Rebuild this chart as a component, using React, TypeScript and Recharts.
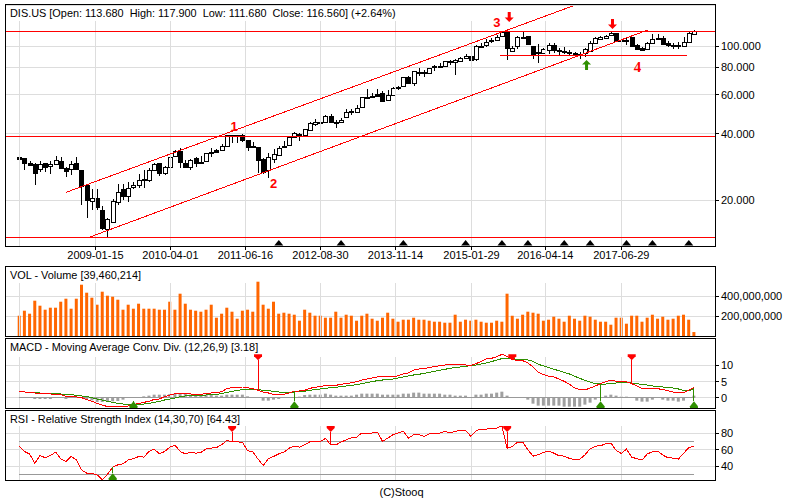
import { Bar, CartesianGrid, ComposedChart, Line, ReferenceDot, ReferenceLine, XAxis, YAxis } from "recharts"

const opens = [31.3,31.0,29.6,29.2,27.6,29.4,28.6,29.1,30.0,28.0,27.6,29.4,27.4,23.5,19.8,20.4,18.1,14.8,16.0,19.6,22.4,21.0,22.9,23.4,24.6,24.6,27.4,29.4,26.7,28.2,31.6,33.5,29.6,28.2,31.0,29.5,30.0,33.1,33.7,33.9,35.1,39.5,39.4,39.5,37.5,35.1,34.9,30.7,27.3,30.8,32.2,34.8,35.7,38.7,39.8,39.7,41.6,44.5,45.1,45.4,48.0,45.4,45.3,47.5,50.5,50.5,53.1,59.0,58.7,60.6,61.0,57.2,59.8,65.0,66.1,72.1,68.2,75.7,76.2,75.5,80.6,80.9,81.4,85.2,84.6,85.8,88.2,90.4,87.3,99.7,100.7,105.7,106.8,110.6,115.7,95.2,99.7,109.5,110.9,100.0,92.6,92.6,95.6,100.7,95.9,94.9,93.9,92.6,91.4,92.6,95.3,103.5,108.0,109.1,111.8,114.1,105.3,106.8,109.5,101.0,98.3,97.2,103.5,109.1,108.3,102.8,100.7,100.7,99.7,103.9,113.68]
const highs = [32.3,31.0,30.0,29.4,30.0,29.6,30.0,31.7,31.3,28.4,30.2,31.5,27.4,23.7,22.5,22.4,18.9,16.6,20.2,23.7,23.6,24.2,24.2,26.3,27.3,27.9,29.4,29.6,28.7,31.5,33.8,34.4,30.4,30.8,31.3,31.9,32.9,34.4,34.2,36.0,39.6,39.6,39.6,39.8,37.5,36.8,35.0,31.0,32.8,34.2,35.4,37.3,39.1,40.6,40.2,42.3,45.1,46.7,47.0,48.8,49.3,46.2,47.2,51.6,51.9,53.9,59.0,63.7,61.0,63.7,62.8,63.2,65.0,65.9,72.6,73.1,77.3,79.5,77.9,79.8,81.7,83.5,85.8,86.4,87.3,89.5,91.6,92.6,101.0,102.8,107.2,108.3,112.2,117.4,118.2,100.0,111.0,115.7,111.0,100.0,102.1,97.6,103.5,103.5,98.3,99.0,95.9,94.3,94.3,97.9,105.0,109.5,111.0,112.5,115.3,114.9,109.5,109.5,110.2,101.8,99.3,104.6,113.3,112.9,110.6,105.7,103.5,104.6,109.5,115.3,117.9]
const lows = [30.4,27.4,28.6,23.5,26.9,26.9,26.3,29.0,27.9,25.6,26.1,27.4,19.0,16.6,18.1,18.1,14.7,13.7,16.0,19.0,20.1,19.7,22.5,22.8,22.8,24.3,27.2,25.9,26.1,28.1,31.4,27.9,28.1,27.4,28.4,29.3,29.9,31.5,32.9,33.8,35.0,36.2,36.4,36.9,33.6,34.6,26.5,26.3,25.3,29.4,31.9,34.4,35.5,38.4,37.3,39.3,41.3,43.2,44.4,45.1,44.6,42.5,44.6,47.2,48.7,50.4,52.2,58.2,57.9,59.0,55.9,56.8,59.4,63.2,65.0,67.7,66.1,73.1,72.1,74.7,77.3,79.8,80.6,81.7,73.9,84.9,87.0,85.8,85.5,98.6,99.3,102.8,106.1,109.5,86.4,93.9,96.6,107.2,100.7,87.3,83.5,92.0,92.0,93.3,91.0,92.0,91.0,90.4,87.3,89.5,94.3,102.8,106.5,108.0,111.0,104.6,101.4,101.0,99.3,95.9,95.3,96.6,102.8,107.2,101.0,98.6,97.2,96.9,99.0,102.8,111.68]
const closes = [30.8,29.6,29.0,26.7,29.1,28.2,29.2,30.3,28.1,27.2,29.1,27.6,23.3,20.1,20.4,18.6,15.0,16.4,19.8,21.8,21.0,22.8,23.4,24.6,24.9,27.4,29.2,26.5,28.2,31.3,33.3,29.9,28.4,30.3,29.4,29.7,32.6,32.6,33.2,35.1,39.4,39.3,39.1,37.5,35.0,34.8,30.6,27.0,31.3,32.4,34.5,35.4,38.7,40.2,39.3,42.0,44.6,45.1,45.4,48.0,45.1,44.9,46.4,50.0,51.0,52.6,58.6,58.6,59.2,59.6,56.6,60.2,64.3,64.3,72.1,68.2,76.8,76.2,75.7,79.2,81.2,81.4,85.2,84.6,86.1,88.2,90.4,86.7,99.7,100.3,103.9,106.5,109.5,115.7,98.3,98.3,109.5,110.2,101.8,92.3,93.6,96.6,100.7,96.2,94.9,94.3,93.0,91.7,92.0,96.6,102.8,109.1,109.5,111.4,114.1,105.3,106.5,106.1,100.3,96.9,95.9,103.5,107.2,108.0,102.4,100.7,100.0,99.7,104.6,114.1,116.56]
// millions of shares
const volumes = [203,253,223,353,303,263,283,283,343,373,273,373,513,433,383,313,443,403,393,363,263,313,273,323,273,273,273,263,263,343,263,423,323,263,253,243,263,313,183,223,283,243,173,253,263,243,543,313,273,343,223,233,223,213,153,263,233,203,203,183,183,243,183,213,203,153,203,223,173,153,183,233,173,143,163,163,183,163,163,153,143,143,133,133,213,143,163,153,163,143,133,133,153,143,423,203,173,213,243,233,223,153,163,193,173,143,203,173,153,203,193,163,143,143,113,183,183,123,203,203,143,183,213,173,193,163,173,203,213,163,39.46]
const macd = [2.04,1.84,1.74,1.53,1.53,1.33,1.23,1.12,1.02,0.51,0.41,0.31,0.10,-0.51,-1.02,-1.64,-2.15,-2.66,-2.66,-2.66,-2.66,-2.45,-1.94,-1.74,-1.33,-1.02,-0.41,-0.31,0.41,0.92,1.33,1.53,1.43,1.23,1.12,1.12,1.33,1.53,1.64,1.94,2.86,3.17,3.37,3.37,3.17,2.86,2.35,1.84,1.53,1.12,1.12,1.12,1.53,2.04,2.15,2.35,2.97,3.27,3.58,3.78,3.89,3.89,4.19,4.40,4.70,5.01,5.52,5.83,6.14,6.44,6.44,6.44,6.44,6.85,7.36,7.67,8.59,8.90,9.00,9.41,9.61,9.92,10.12,10.12,10.12,10.12,10.12,10.02,10.53,11.25,11.96,12.17,12.68,13.39,12.78,11.76,11.55,11.45,10.74,9.51,7.87,7.16,6.65,6.44,5.83,5.11,4.19,3.07,2.56,2.45,3.07,3.68,4.40,5.01,5.52,5.11,4.91,4.91,4.40,3.68,2.86,2.86,2.86,2.86,2.56,2.25,1.84,1.53,1.64,2.45,3.18]
const signal = [1.84,1.84,1.74,1.64,1.53,1.53,1.43,1.33,1.23,1.12,1.02,0.82,0.61,0.41,0.10,-0.31,-0.61,-1.02,-1.33,-1.64,-1.84,-1.94,-1.94,-1.94,-1.84,-1.64,-1.33,-1.02,-0.61,-0.31,0,0.41,0.61,0.72,0.82,0.82,0.92,1.02,1.12,1.33,1.74,2.04,2.35,2.56,2.66,2.66,2.56,2.35,2.25,2.04,1.84,1.74,1.74,1.84,1.94,2.04,2.35,2.56,2.76,2.97,3.17,3.27,3.48,3.68,3.89,4.09,4.40,4.70,5.01,5.32,5.52,5.62,5.83,6.14,6.44,6.75,7.06,7.26,7.57,7.87,8.18,8.49,8.79,9.10,9.41,9.51,9.71,9.92,10.12,10.43,10.74,11.15,11.66,12.07,12.17,12.07,11.86,11.76,11.66,11.25,10.33,9.82,9.31,8.79,8.38,7.87,7.36,6.65,6.03,5.42,4.91,4.40,4.29,4.29,4.40,4.60,4.60,4.60,4.60,4.50,3.99,3.99,3.68,3.58,3.37,3.17,3.07,2.76,2.35,2.35,2.56]
const histogram = [0,0,0,-0.31,-0.31,-0.31,-0.31,0,0,-0.31,0,0,0,-0.31,-0.72,-1.23,-1.23,-1.23,-1.02,-0.92,-0.51,0,0,0.2,0.51,0.72,1.02,1.02,1.02,1.23,1.33,1.53,1.23,1.02,1.02,1.02,1.02,0.92,0.72,0.72,1.02,1.02,1.02,1.02,0.51,0.31,0,-0.82,-0.82,-0.51,-0.31,0,0,0,0.41,0.92,1.02,1.02,1.02,1.33,1.02,0.72,0.72,0.72,0.72,1.02,1.33,1.33,1.33,1.33,1.02,1.02,1.02,1.02,1.33,1.33,1.64,1.64,1.33,1.33,1.33,1.33,1.02,1.02,0.72,0.72,0.72,0.31,1.02,1.02,1.33,1.33,1.64,1.94,0.72,0,0,0,-0.51,-1.74,-2.35,-2.35,-2.35,-2.35,-2.35,-2.66,-2.66,-2.66,-2.66,-2.04,-1.43,-0.51,0,0.72,1.02,0.72,0.41,0.41,0,-0.82,-1.12,-1.12,-0.51,0,-0.51,-0.82,-0.82,-1.12,-0.82,0,0.72]
const rsi = [64.4,58.0,54.9,44.1,53.3,50.5,53.3,57.2,49.3,46.1,52.1,48.1,36.1,32.1,32.1,30.1,24.5,30.9,39.3,42.1,43.3,48.1,49.3,52.1,51.3,58.0,60.8,55.2,58.0,63.2,65.6,58.0,55.2,57.2,56.0,56.8,61.2,62.0,62.8,66.0,71.2,69.6,69.6,68.8,58.8,57.6,48.9,41.3,49.3,52.1,55.2,57.2,62.0,64.4,63.2,66.0,69.6,70.0,70.0,73.6,66.0,66.0,69.2,72.0,74.4,75.2,80.0,80.0,80.0,81.2,70.0,74.0,78.0,80.0,82.0,74.0,78.0,78.0,76.0,79.2,80.0,80.0,82.0,80.0,82.0,83.2,83.2,76.0,82.8,84.8,84.8,85.2,86.0,88.4,61.6,64.0,69.2,69.2,60.0,52.5,54.1,56.8,58.4,56.0,52.9,52.5,49.7,48.5,48.9,54.1,61.2,64.4,64.8,67.2,68.0,59.2,55.6,60.8,51.3,49.3,47.7,55.2,57.6,58.4,53.7,50.5,50.1,48.9,56.0,62.4,64.43]

const tickBars = [0, 14.68, 29.13, 43.58, 58.03, 72.49, 87.13, 101.35, 115.99]
const tickLabels = ["", "2009-01-15", "2010-04-01", "2011-06-16", "2012-08-30", "2013-11-14", "2015-01-29", "2016-04-14", "2017-06-29"]
const priceTicks = [20, 40, 60, 80, 100]
const volumeTicks = [200, 400]
const macdTicks = [0, 5, 10]
const rsiTicks = [40, 60, 80]

const priceLevels = [116.6, 39, 13.6]
const patternBars = [50, 62, 74, 86, 93, 98, 105, 110, 117, 122, 129]
const macdSells = [46, 95, 118]
const macdBuys = [22, 53, 112, 130]
const rsiSells = [41, 60, 94]
const rsiBuys = [18]

const candles = opens.map((open, i) => ({ bar: i, open, high: highs[i], low: lows[i], close: closes[i] }))
const volumeRows = volumes.map((volume, i) => ({ bar: i, volume }))
const macdRows = macd.map((value, i) => ({ bar: i, macd: value, signal: signal[i], histogram: histogram[i] }))
const rsiRows = rsi.map((value, i) => ({ bar: i, rsi: value }))

const RED = "#ff0000"
const GREEN = "#2f8f00"
const GRID = "#dddddd"
const LEVEL = "#999999"
const FONT = "'Liberation Sans', Arial, sans-serif"
const CRISP = "crispEdges"
const xDomain: [number, number] = [-2.755, 134.05]
const axisTick = { fontSize: 11, fontFamily: FONT, fill: "#000" }

const Candle = (props: any) => {
  const { x, y, width, height, payload } = props
  const { open, high, low, close } = payload
  const at = (v: number) => y + (height * Math.log(high / v)) / Math.log(high / low)
  const cx = Math.round(x + width / 2) + 0.5
  const up = close >= open
  const top = Math.round(at(Math.max(open, close))) + 0.5
  const bottom = Math.max(Math.round(at(Math.min(open, close))) + 0.5, top + 1)
  return (
    <g shapeRendering={CRISP}>
      <line x1={cx} x2={cx} y1={y} y2={y + height} stroke="#000" />
      <rect x={cx - 2} y={top} width={4} height={bottom - top} fill={up ? "#fff" : "#000"} stroke="#000" />
    </g>
  )
}

const triangleDown = (props: any) => {
  const { cx, cy } = props
  return <path d={`M${cx - 4} ${cy - 6}H${cx + 4}V${cy - 4}L${cx} ${cy}L${cx - 4} ${cy - 4}Z`} fill={RED} />
}
const triangleUp = (props: any) => {
  const { cx, cy } = props
  return <path d={`M${cx} ${cy}L${cx + 4} ${cy + 5}V${cy + 7}H${cx - 4}V${cy + 5}Z`} fill={GREEN} />
}
const blackTriangle = (props: any) => {
  const { cx, cy } = props
  return <path d={`M${cx} ${cy - 3}L${cx + 4.5} ${cy + 2.5}H${cx - 4.5}Z`} fill="#000" />
}
const arrowDown = (props: any) => {
  const { cx, cy } = props
  return <path d={`M${cx} ${cy}L${cx + 4.5} ${cy - 4.5}H${cx + 1.5}V${cy - 10}H${cx - 1.5}V${cy - 4.5}H${cx - 4.5}Z`} fill={RED} />
}
const arrowUp = (props: any) => {
  const { cx, cy } = props
  return <path d={`M${cx} ${cy}L${cx + 4.5} ${cy + 4.5}H${cx + 1.5}V${cy + 10}H${cx - 1.5}V${cy + 4.5}H${cx - 4.5}Z`} fill={GREEN} />
}
const wave = (text: string, family = FONT, size = 13) => (props: any) => (
  <text x={props.cx} y={props.cy + 5} textAnchor="middle" fontFamily={family} fontWeight="bold" fontSize={size} fill={RED}>
    {text}
  </text>
)

const waveLabels = [
  { bar: 41.4, price: 43.4, text: "1" },
  { bar: 49, price: 23.9, text: "2" },
  { bar: 92, price: 128.4, text: "3" },
]

// vertical grid starts under the panel title
const gridLines = (bottom: number, top: number) =>
  tickBars.map((bar) => (
    <ReferenceLine
      key={bar}
      segment={[{ x: bar, y: bottom }, { x: bar, y: top }]}
      stroke={GRID}
      shapeRendering={CRISP}
      ifOverflow="visible"
    />
  ))

const Frame = ({ top, height, title }: { top: number; height: number; title: string }) => (
  <div
    style={{
      position: "absolute",
      left: 5,
      top,
      width: 711,
      height: height + 1,
      boxSizing: "border-box",
      border: "1px solid #000",
      pointerEvents: "none",
    }}
  >
    <div style={{ position: "absolute", left: 4, top: 1, fontFamily: FONT, fontSize: 10.9, lineHeight: "14px", whiteSpace: "pre" }}>
      {title}
    </div>
  </div>
)

export default function App() {
  return (
    <div style={{ position: "absolute", left: 0, top: 0, width: 800, height: 500, background: "#fff", overflow: "hidden" }}>
      <div style={{ position: "absolute", left: 0, top: 5 }}>
        <ComposedChart width={800} height={265} data={candles} margin={{ top: 0, right: 0, bottom: 0, left: 5 }}>
          <CartesianGrid vertical={false} stroke={GRID} shapeRendering={CRISP} />
          <XAxis
            dataKey="bar"
            type="number"
            domain={xDomain}
            ticks={tickBars.slice(1)}
            tickFormatter={(v: number) => tickLabels[tickBars.indexOf(v)]}
            tick={axisTick}
            tickSize={4}
            tickMargin={1}
            height={24}
            axisLine={false}
            tickLine={{ stroke: "#000", shapeRendering: CRISP }}
            interval={0}
          />
          <YAxis
            orientation="right"
            width={85}
            scale="log"
            domain={[12.42, 153.4]}
            allowDataOverflow
            ticks={priceTicks}
            tickFormatter={(v: number) => v.toFixed(3)}
            tick={axisTick}
            tickSize={4}
            tickMargin={2}
            axisLine={false}
            tickLine={{ stroke: "#000", shapeRendering: CRISP }}
            interval={0}
          />
          {gridLines(12.42, 130)}
          {priceLevels.map((price) => (
            <ReferenceLine key={price} y={price} stroke={RED} shapeRendering={CRISP} />
          ))}
          <Bar dataKey={(row: any) => [row.low, row.high]} barSize={5} shape={Candle} isAnimationActive={false} />
          <ReferenceLine segment={[{ x: 8.92, y: 21.7 }, { x: 106.7, y: 152 }]} stroke={RED} shapeRendering={CRISP} ifOverflow="visible" />
          <ReferenceLine segment={[{ x: 13.09, y: 13.5 }, { x: 121.1, y: 118.2 }]} stroke={RED} shapeRendering={CRISP} ifOverflow="visible" />
          <ReferenceLine segment={[{ x: 92.7, y: 90.7 }, { x: 128.6, y: 90.7 }]} stroke={RED} shapeRendering={CRISP} ifOverflow="visible" />
          {patternBars.map((bar) => (
            <ReferenceDot key={bar} x={bar} y={12.8} r={0} shape={blackTriangle} ifOverflow="visible" />
          ))}
          {waveLabels.map((w) => (
            <ReferenceDot key={w.text} x={w.bar} y={w.price} r={0} shape={wave(w.text)} ifOverflow="visible" />
          ))}
          <ReferenceDot x={119.1} y={80.6} r={0} shape={wave("4", "'Liberation Serif', serif", 15)} ifOverflow="visible" />
          <ReferenceDot x={94.4} y={128.4} r={0} shape={arrowDown} ifOverflow="visible" />
          <ReferenceDot x={114.3} y={119.4} r={0} shape={arrowDown} ifOverflow="visible" />
          <ReferenceDot x={109.3} y={86.4} r={0} shape={arrowUp} ifOverflow="visible" />
        </ComposedChart>
      </div>

      <div style={{ position: "absolute", left: 0, top: 266 }}>
        <ComposedChart width={800} height={70} data={volumeRows} margin={{ top: 0, right: 0, bottom: 0, left: 5 }}>
          <CartesianGrid vertical={false} stroke={GRID} shapeRendering={CRISP} />
          <XAxis dataKey="bar" type="number" domain={xDomain} hide />
          <YAxis
            orientation="right"
            width={85}
            domain={[0, 700]}
            ticks={volumeTicks}
            tickFormatter={(v: number) => (v * 1000000).toLocaleString("en-US")}
            tick={axisTick}
            tickSize={4}
            tickMargin={2}
            axisLine={false}
            tickLine={{ stroke: "#000", shapeRendering: CRISP }}
            interval={0}
          />
          {gridLines(0, 530)}
          <Bar dataKey="volume" barSize={3} fill="#ff6600" isAnimationActive={false} />
        </ComposedChart>
      </div>

      <div style={{ position: "absolute", left: 0, top: 338 }}>
        <ComposedChart width={800} height={70} data={macdRows} margin={{ top: 0, right: 0, bottom: 0, left: 5 }}>
          <CartesianGrid vertical={false} stroke={GRID} shapeRendering={CRISP} />
          <XAxis dataKey="bar" type="number" domain={xDomain} hide />
          <YAxis
            orientation="right"
            width={85}
            domain={[-3.07, 18.4]}
            allowDataOverflow
            ticks={macdTicks}
            tick={axisTick}
            tickSize={4}
            tickMargin={2}
            axisLine={false}
            tickLine={{ stroke: "#000", shapeRendering: CRISP }}
            interval={0}
          />
          {gridLines(-3.07, 12.6)}
          <ReferenceLine segment={[{ x: 0, y: 0 }, { x: 130, y: 0 }]} stroke={LEVEL} shapeRendering={CRISP} />
          <Bar dataKey="histogram" barSize={3} fill="#a0a0a0" isAnimationActive={false} />
          <Line dataKey="signal" stroke={GREEN} dot={false} shapeRendering={CRISP} isAnimationActive={false} />
          <Line dataKey="macd" stroke={RED} dot={false} shapeRendering={CRISP} isAnimationActive={false} />
          {macdSells.map((bar) => (
            <ReferenceLine key={bar} segment={[{ x: bar, y: macd[bar] }, { x: bar, y: 11.55 }]} stroke={RED} shapeRendering={CRISP} />
          ))}
          {macdSells.map((bar) => (
            <ReferenceDot key={bar} x={bar} y={11.55} r={0} shape={triangleDown} ifOverflow="visible" />
          ))}
          {macdBuys.map((bar) => (
            <ReferenceLine key={bar} segment={[{ x: bar, y: macd[bar] }, { x: bar, y: -1 }]} stroke={GREEN} shapeRendering={CRISP} />
          ))}
          {macdBuys.map((bar) => (
            <ReferenceDot key={bar} x={bar} y={-1} r={0} shape={triangleUp} ifOverflow="visible" />
          ))}
        </ComposedChart>
      </div>

      <div style={{ position: "absolute", left: 0, top: 410 }}>
        <ComposedChart width={800} height={70} data={rsiRows} margin={{ top: 0, right: 0, bottom: 0, left: 5 }}>
          <CartesianGrid vertical={false} stroke={GRID} shapeRendering={CRISP} />
          <XAxis dataKey="bar" type="number" domain={xDomain} hide />
          <YAxis
            orientation="right"
            width={85}
            domain={[24, 107.5]}
            allowDataOverflow
            ticks={rsiTicks}
            tick={axisTick}
            tickSize={4}
            tickMargin={2}
            axisLine={false}
            tickLine={{ stroke: "#000", shapeRendering: CRISP }}
            interval={0}
          />
          {gridLines(24, 88)}
          <ReferenceLine segment={[{ x: 0, y: 70 }, { x: 130, y: 70 }]} stroke={LEVEL} shapeRendering={CRISP} />
          <ReferenceLine segment={[{ x: 0, y: 30 }, { x: 130, y: 30 }]} stroke={LEVEL} shapeRendering={CRISP} />
          <Line dataKey="rsi" stroke={RED} dot={false} shapeRendering={CRISP} isAnimationActive={false} />
          {rsiSells.map((bar) => (
            <ReferenceLine key={bar} segment={[{ x: bar, y: rsi[bar] }, { x: bar, y: 81.2 }]} stroke={RED} shapeRendering={CRISP} />
          ))}
          {rsiSells.map((bar) => (
            <ReferenceDot key={bar} x={bar} y={81.2} r={0} shape={triangleDown} ifOverflow="visible" />
          ))}
          {rsiBuys.map((bar) => (
            <ReferenceLine key={bar} segment={[{ x: bar, y: rsi[bar] }, { x: bar, y: 32.1 }]} stroke={GREEN} shapeRendering={CRISP} />
          ))}
          {rsiBuys.map((bar) => (
            <ReferenceDot key={bar} x={bar} y={32.1} r={0} shape={triangleUp} ifOverflow="visible" />
          ))}
        </ComposedChart>
      </div>

      <Frame top={4} height={242} title="DIS.US [Open: 113.680  High: 117.900  Low: 111.680  Close: 116.560] (+2.64%)" />
      <Frame top={266} height={70} title="VOL - Volume [39,460,214]" />
      <Frame top={338} height={70} title="MACD - Moving Average Conv. Div. (12,26,9) [3.18]" />
      <Frame top={410} height={70} title="RSI - Relative Strength Index (14,30,70) [64.43]" />
      <div style={{ position: "absolute", left: 0, width: 803, top: 485, textAlign: "center", fontFamily: FONT, fontSize: 11, lineHeight: "14px" }}>
        (C)Stooq
      </div>
    </div>
  )
}
